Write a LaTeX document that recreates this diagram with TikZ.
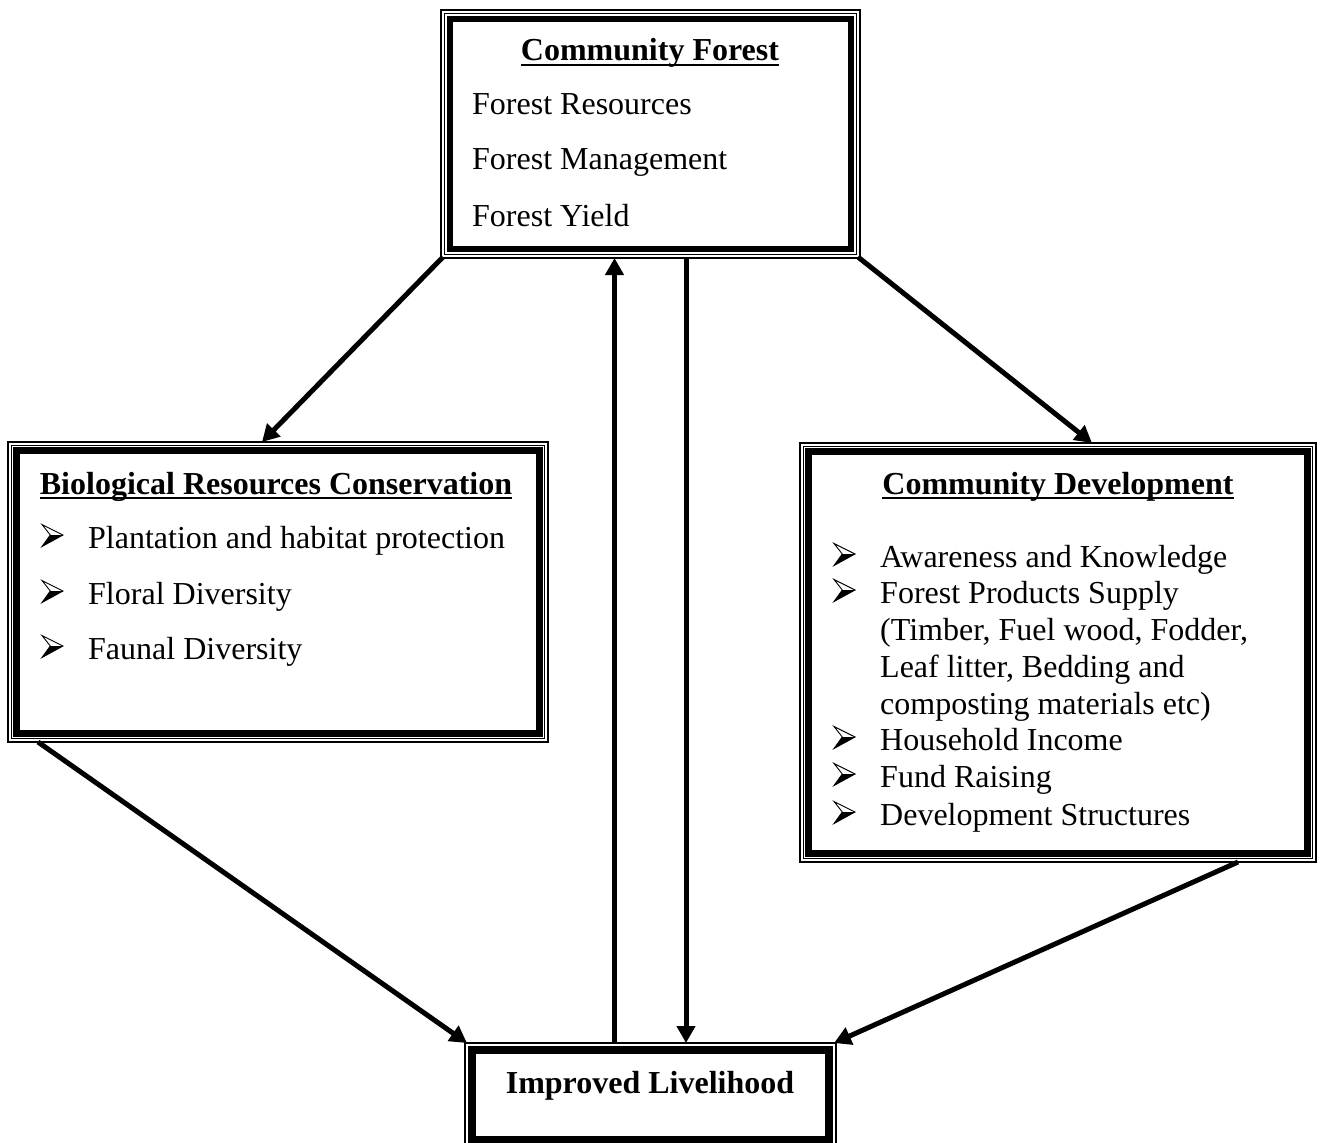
\documentclass[tikz,border=0pt]{standalone}
\usepackage{fontspec}
\setmainfont{Liberation Serif}
\usetikzlibrary{arrows.meta,calc}
\newcommand\ulbold[1]{\setbox0\hbox{\bfseries #1}\rlap{\rule[-5pt]{\wd0}{2.2pt}}\box0}
\begin{document}
\begin{tikzpicture}[x=1pt,y=-1pt,
  frame/.style={draw, line width=1.1pt, inner sep=0pt, outer sep=0pt},
  thinline/.style={line width=1.1pt},
  thickline/.style={line width=6.5pt},
  txt/.style={inner sep=0pt, anchor=base west, font=\fontsize{32}{37}\selectfont},
  ttl/.style={inner sep=0pt, anchor=base, font=\fontsize{32}{37}\selectfont},
  conn/.style={line width=5pt, -{Triangle[length=17pt,width=18pt]}, shorten >=0pt},
  abul/.pic={
    \fill[black] (8.3,-13) -- (21,-13) -- (0,-1.5) -- cycle;
    \draw[line width=0.9pt, line join=miter] (0,-23.5) -- (21,-13) -- (0,-1.5) -- (8.3,-13) -- cycle;
  }
]
\useasboundingbox (0,0) rectangle (1321,1142);
% frames (outer thin line)
\node[frame, minimum width=419pt, minimum height=248pt] (CF) at (650.5,134) {};
\node[frame, minimum width=540pt, minimum height=300pt] (BRC) at (278,592) {};
\node[frame, minimum width=516pt, minimum height=419pt] (CD) at (1058,652.5) {};
\node[frame, minimum width=371pt, minimum height=104pt] (IL) at (650.5,1095) {};
\foreach \n/\b in {CF/9, BRC/8.5, CD/8.5, IL/7.5} {
  \draw[thinline] ([shift={(3.5,3.5)}]\n.north west) rectangle ([shift={(-3.5,-3.5)}]\n.south east);
  \draw[thickline] ([shift={(\b,\b)}]\n.north west) rectangle ([shift={(-\b,-\b)}]\n.south east);
}
% texts: Community Forest
\node[ttl] (cft) at (650,61) {\ulbold{Community Forest}};
\node[txt] (cf1) at (472,115) {Forest Resources};
\node[txt] (cf2) at (472,170) {Forest Management};
\node[txt] (cf3) at (472,226) {Forest Yield};
% Biological Resources Conservation
\node[ttl] (brt) at (276,494) {\ulbold{Biological Resources Conservation}};
\pic at (42,548) {abul};
\node[txt] (br1) at (88,548) {Plantation and habitat protection};
\pic at (42,604) {abul};
\node[txt] (br2) at (88,604) {Floral Diversity};
\pic at (42,659) {abul};
\node[txt] (br3) at (88,659) {Faunal Diversity};
% Community Development
\node[ttl] (cdt) at (1058,494) {\ulbold{Community Development}};
\pic at (834,567) {abul};
\node[txt] (cd1) at (880,567) {Awareness and Knowledge};
\pic at (834,603) {abul};
\node[txt] (cd2) at (880,603) {Forest Products Supply};
\node[txt] (cd3) at (880,640) {(Timber, Fuel wood, Fodder,};
\node[txt] (cd4) at (880,677) {Leaf litter, Bedding and};
\node[txt] (cd5) at (880,714) {composting materials etc)};
\pic at (834,750) {abul};
\node[txt] (cd6) at (880,750) {Household Income};
\pic at (834,787) {abul};
\node[txt] (cd7) at (880,787) {Fund Raising};
\pic at (834,825) {abul};
\node[txt] (cd8) at (880,825) {Development Structures};
% Improved Livelihood
\node[ttl] (ilt) at (650,1093) {\bfseries Improved Livelihood};
% connectors
\draw[conn] ([shift={(2,-1)}]CF.south west) -- ([xshift=-16]BRC.north);
\draw[conn] ([shift={(-2,-1)}]CF.south east) -- ([xshift=34]CD.north);
\draw[conn] ([xshift=-36]IL.north) -- ([xshift=-36]CF.south);
\draw[conn] ([xshift=35.5]CF.south) -- ([xshift=35.5]IL.north);
\draw[conn] ([xshift=30]BRC.south west) -- ([xshift=2]IL.north west);
\draw[conn] ([xshift=-78]CD.south east) -- ([xshift=-2]IL.north east);
\end{tikzpicture}
\end{document}
